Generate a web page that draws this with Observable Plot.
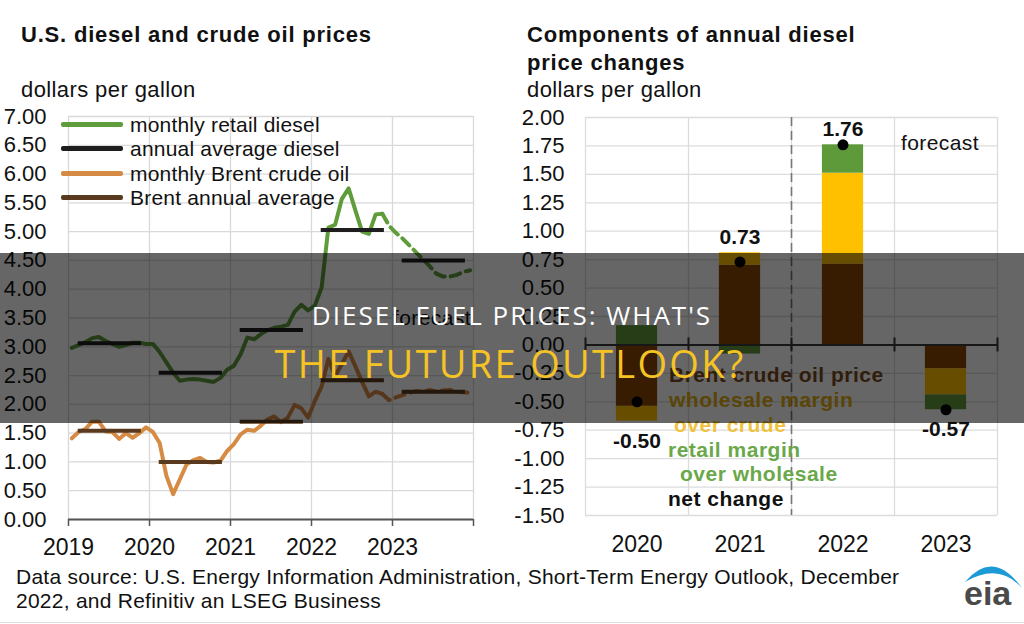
<!DOCTYPE html>
<html><head><meta charset="utf-8">
<script src="https://cdn.jsdelivr.net/npm/d3@7"></script>
<script src="https://cdn.jsdelivr.net/npm/@observablehq/plot@0.6"></script>
<style>
body{margin:0;background:#fff;}
#root{position:relative;width:1024px;height:624px;overflow:hidden;background:#fff;font-family:"Liberation Sans",Arial,sans-serif;color:#111;}
.t{position:absolute;white-space:nowrap;line-height:1;}
.chart{position:absolute;}
</style></head><body><div id="root"></div>
<script>
// ---------------- DATA ----------------
const years = [2019, 2020, 2021, 2022, 2023];
const monthlyDiesel = [
  2.98, 3.03, 3.08, 3.15, 3.17, 3.10, 3.05, 3.00, 3.03, 3.07, 3.07, 3.05,
  3.05, 2.91, 2.73, 2.55, 2.41, 2.43, 2.44, 2.43, 2.41, 2.39, 2.46, 2.60,
  2.67, 2.87, 3.16, 3.13, 3.22, 3.29, 3.33, 3.35, 3.38, 3.61, 3.73, 3.63,
  3.72, 4.03, 5.07, 5.12, 5.57, 5.75, 5.37, 5.00, 4.96, 5.30, 5.31, 5.10,
  4.98, 4.88, 4.76, 4.64, 4.52, 4.40, 4.27, 4.22, 4.22, 4.25, 4.30, 4.33
];
const monthlyBrent = [
  1.41, 1.52, 1.57, 1.70, 1.70, 1.53, 1.52, 1.40, 1.50, 1.42, 1.50, 1.60,
  1.52, 1.33, 0.76, 0.44, 0.70, 0.96, 1.03, 1.07, 1.00, 0.99, 1.02, 1.19,
  1.31, 1.48, 1.56, 1.54, 1.63, 1.74, 1.79, 1.69, 1.77, 1.99, 1.93, 1.77,
  2.06, 2.31, 2.79, 2.49, 2.70, 2.92, 2.66, 2.39, 2.14, 2.22, 2.18, 2.07,
  2.12, 2.16, 2.20, 2.23, 2.22, 2.25, 2.22, 2.24, 2.25, 2.22, 2.21, 2.20
];
const annualDiesel = [3.06, 2.55, 3.29, 5.03, 4.50];
const annualBrent = [1.54, 1.00, 1.70, 2.42, 2.22];
const forecastFromMonth = 46; // Nov 2022 (index), dashed afterwards
const leftYTicks = [0, 0.5, 1, 1.5, 2, 2.5, 3, 3.5, 4, 4.5, 5, 5.5, 6, 6.5, 7];
const leftXTicks = [2019, 2020, 2021, 2022, 2023, 2024];
const leftXLabels = ["2019", "2020", "2021", "2022", "2023", ""];
const leftLegend = ["monthly retail diesel", "annual average diesel", "monthly Brent crude oil", "Brent annual average"];

const changeYears = [2020, 2021, 2022, 2023];
const components = ["Brent crude oil price", "wholesale margin over crude", "retail margin over wholesale"];
const brentChange = [-0.54, 0.70, 0.71, -0.21];
const wholesaleChange = [-0.13, 0.11, 0.80, -0.23];
const retailChange = [0.17, -0.08, 0.25, -0.13];
const netChange = [-0.50, 0.73, 1.76, -0.57];
const firstForecastYear = 2022;
const rightYTicks = [-1.5, -1.25, -1, -0.75, -0.5, -0.25, 0, 0.25, 0.5, 0.75, 1, 1.25, 1.5, 1.75, 2];

// ---------------- STYLE ----------------
const GREEN = "#5f9c3b", BLACK = "#1e1e1e", ORANGE = "#d68b45", DBROWN = "#5a3a1e";
const BAR_BROWN = "#8a4806", BAR_GOLD = "#ffc000", BAR_GREEN = "#5f9a3a";
const FONT = "Liberation Sans, Arial, sans-serif";
const root = document.getElementById("root");

function txt(str, x, base, size, o = {}) {
  const d = document.createElement("div");
  d.className = "t";
  d.textContent = str;
  const f = o.factor ?? 0.8465;
  d.style.top = (base - f * size) + "px";
  d.style.fontSize = size + "px";
  if (o.center) { d.style.left = (x - 600) + "px"; d.style.width = "1200px"; d.style.textAlign = "center"; }
  else d.style.left = x + "px";
  if (o.bold) d.style.fontWeight = "bold";
  if (o.color) d.style.color = o.color;
  if (o.ls) d.style.letterSpacing = o.ls + "px";
  if (o.font) d.style.fontFamily = o.font;
  root.appendChild(d);
  return d;
}

// ---------------- LEFT CHART ----------------
const monthly = [];
years.forEach((y, yi) => {
  for (let m = 0; m < 12; m++) {
    const i = yi * 12 + m;
    monthly.push({i, t: y + (m + 0.5) / 12, diesel: monthlyDiesel[i], brent: monthlyBrent[i]});
  }
});
const actual = monthly.filter(d => d.i <= forecastFromMonth);
const forecast = monthly.filter(d => d.i >= forecastFromMonth);
const annual = years.map((y, i) => ({year: y, diesel: annualDiesel[i], brent: annualBrent[i]}));

const left = Plot.plot({
  width: 500, height: 470,
  marginLeft: 68, marginRight: 27, marginTop: 16, marginBottom: 51,
  style: {fontFamily: FONT, fontSize: "22px", color: "#111", background: "transparent", overflow: "visible"},
  x: {domain: [2019, 2024]},
  y: {domain: [0, 7]},
  marks: [
    Plot.gridY({ticks: leftYTicks, stroke: "#d9d9d9", strokeOpacity: 1, strokeWidth: 1.3}),
    Plot.gridX({ticks: leftXTicks, stroke: "#d9d9d9", strokeOpacity: 1, strokeWidth: 1.3}),
    Plot.axisY({ticks: leftYTicks, tickFormat: d => d.toFixed(2), tickSize: 0, tickPadding: 22, label: null, fontSize: 22}),
    Plot.axisX({ticks: leftXTicks, tickFormat: d => leftXLabels[leftXTicks.indexOf(d)], tickSize: 7, tickPadding: 12, label: null, fontSize: 23, stroke: "#555", strokeWidth: 1.5}),
    Plot.ruleY([0], {stroke: "#555", strokeWidth: 2}),
    Plot.line(actual, {x: "t", y: "diesel", stroke: GREEN, strokeWidth: 4}),
    Plot.line(forecast, {x: "t", y: "diesel", stroke: GREEN, strokeWidth: 4, strokeDasharray: "10,6"}),
    Plot.ruleY(annual, {y: "diesel", x1: d => d.year + 0.12, x2: d => d.year + 0.9, stroke: BLACK, strokeWidth: 4}),
    Plot.line(actual, {x: "t", y: "brent", stroke: ORANGE, strokeWidth: 4}),
    Plot.line(forecast, {x: "t", y: "brent", stroke: ORANGE, strokeWidth: 4, strokeDasharray: "10,6"}),
    Plot.ruleY(annual, {y: "brent", x1: d => d.year + 0.12, x2: d => d.year + 0.9, stroke: DBROWN, strokeWidth: 4})
  ]
});
left.classList.add("chart");
left.style.left = "0px"; left.style.top = "100px";
root.appendChild(left);

// ---------------- RIGHT CHART ----------------
const stackData = [];
changeYears.forEach((y, i) => {
  stackData.push({year: y, component: components[0], value: brentChange[i]});
  stackData.push({year: y, component: components[1], value: wholesaleChange[i]});
  stackData.push({year: y, component: components[2], value: retailChange[i]});
});
const netData = changeYears.map((y, i) => {
  const vals = [brentChange[i], wholesaleChange[i], retailChange[i]];
  return {year: y, net: netChange[i],
    top: d3.sum(vals.filter(v => v > 0)), bottom: d3.sum(vals.filter(v => v < 0))};
});
const boundaries = [...changeYears.map(y => y - 0.5), changeYears[changeYears.length - 1] + 0.5];
const barHalf = 0.2;

const right = Plot.plot({
  width: 512, height: 470,
  marginLeft: 73, marginRight: 27, marginTop: 17, marginBottom: 55,
  style: {fontFamily: FONT, fontSize: "22px", color: "#111", background: "transparent", overflow: "visible"},
  x: {domain: [boundaries[0], boundaries[boundaries.length - 1]]},
  y: {domain: [-1.5, 2]},
  color: {domain: components, range: [BAR_BROWN, BAR_GOLD, BAR_GREEN]},
  marks: [
    Plot.gridY({ticks: rightYTicks, stroke: "#dcdcdc", strokeOpacity: 1, strokeWidth: 1.3}),
    Plot.gridX({ticks: boundaries, stroke: "#dcdcdc", strokeOpacity: 1, strokeWidth: 1.3}),
    Plot.ruleX([firstForecastYear - 0.5], {stroke: "#777", strokeWidth: 1.6, strokeDasharray: "9,5"}),
    Plot.axisY({ticks: rightYTicks, tickFormat: d => d.toFixed(2), tickSize: 0, tickPadding: 21, label: null, fontSize: 22}),
    Plot.axisX({ticks: changeYears, tickFormat: d => String(d), tickSize: 0, tickPadding: 20, label: null, fontSize: 23}),
    Plot.rectY(stackData, {x1: d => d.year - barHalf, x2: d => d.year + barHalf, y: "value", fill: "component"}),
    Plot.ruleY([0], {stroke: "#3a3a3a", strokeWidth: 2}),
    Plot.ruleX(boundaries, {y1: 0, y2: 0, insetTop: -7, insetBottom: -7, stroke: "#3a3a3a", strokeWidth: 2}),
    Plot.dot(netData, {x: "year", y: "net", r: 5.5, fill: "#000", stroke: null}),
    Plot.text(netData.filter(d => d.net >= 0), {x: "year", y: "top", text: d => d.net.toFixed(2), dy: -16, fontWeight: "bold", fontSize: 21, fill: "#111"}),
    Plot.text(netData.filter(d => d.net < 0), {x: "year", y: "bottom", text: d => d.net.toFixed(2), dy: 20, fontWeight: "bold", fontSize: 21, fill: "#111"})
  ]
});
right.classList.add("chart");
right.style.left = "512px"; right.style.top = "100px";
root.appendChild(right);

// ---------------- TEXT ----------------
txt("U.S. diesel and crude oil prices", 21, 43, 22, {bold: true, ls: 0.8});
txt("dollars per gallon", 21, 98, 22, {ls: 0.4});
txt("Components of annual diesel", 527, 43, 22, {bold: true, ls: 0.8});
txt("price changes", 527, 71, 22, {bold: true, ls: 0.8});
txt("dollars per gallon", 527, 98, 22, {ls: 0.4});

// left legend
const legendColors = [GREEN, BLACK, ORANGE, DBROWN];
const legendRows = [124, 148, 173, 197];
leftLegend.forEach((name, i) => {
  const sw = document.createElement("div");
  sw.style.cssText = `position:absolute;left:61px;top:${legendRows[i] - 2}px;width:62px;height:4.5px;background:${legendColors[i]};border-radius:2px;`;
  root.appendChild(sw);
  txt(name, 130, legendRows[i] + 7.5, 21, {ls: 0.2});
});
txt("forecast", 393, 325, 21, {ls: 0.4});
txt("forecast", 901, 150, 21, {ls: 0.4});

// right legend (coloured text)
const rl = [
  ["Brent crude oil price", 669, 382, "#7a4a1c"],
  ["wholesale margin", 669, 407, "#e0ac10"],
  ["over crude", 674, 432, "#efc240"],
  ["retail margin", 668, 457, "#6aa84a"],
  ["over wholesale", 680, 481, "#6aa84a"],
  ["net change", 668, 506, "#111"]
];
rl.forEach(([s, x, b, c]) => txt(s, x, b, 21, {bold: true, color: c, ls: 0.5}));

// source
txt("Data source: U.S. Energy Information Administration, Short-Term Energy Outlook, December", 16, 584, 21, {ls: 0.25});
txt("2022, and Refinitiv an LSEG Business", 16, 608, 21, {ls: 0.25});

// eia logo
const logo = document.createElementNS("http://www.w3.org/2000/svg", "svg");
logo.setAttribute("width", 70); logo.setAttribute("height", 62);
logo.style.cssText = "position:absolute;left:955px;top:552px;";
logo.innerHTML = `<path d="M10,30 Q38,-4 67,36 Q44,10 10,30 Z" fill="#1b9ad6"/>
<text x="9" y="53" font-family="Liberation Sans, Arial" font-weight="bold" font-size="34" fill="#4a4a4a">eia</text>`;
root.appendChild(logo);

// bottom line
const bl = document.createElement("div");
bl.style.cssText = "position:absolute;left:0;top:622px;width:1024px;height:1px;background:#ddd;";
root.appendChild(bl);

// ---------------- OVERLAY BAND ----------------
const ov = document.createElement("div");
ov.style.cssText = "position:absolute;left:0;top:253px;width:1024px;height:170px;background:rgba(0,0,0,0.6);";
root.appendChild(ov);
txt("DIESEL FUEL PRICES: WHAT'S", 512, 325, 26, {color: "#ffffff", font: "Open Sans, sans-serif", factor: 0.888, center: true, ls: 2});
txt("THE FUTURE OUTLOOK?", 510, 378, 38, {color: "#f6c325", font: "Open Sans, sans-serif", factor: 0.888, center: true, ls: 2.3});
</script></body></html>
